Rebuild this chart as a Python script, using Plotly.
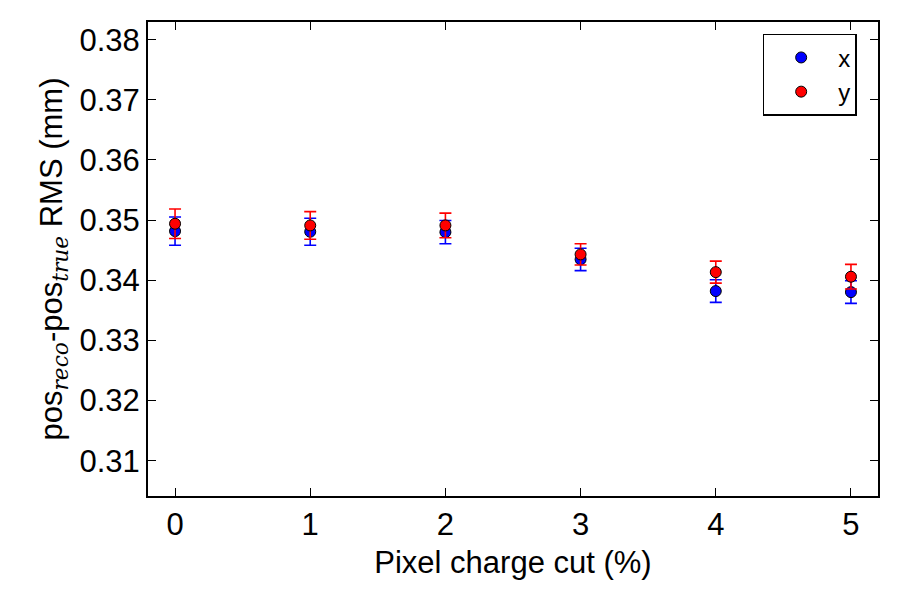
import plotly.graph_objects as go

cuts = [0, 1, 2, 3, 4, 5]
x_rms = [0.34817, 0.34807, 0.34800, 0.34347, 0.33820, 0.33803]
x_err = [0.00236, 0.00224, 0.00194, 0.00186, 0.00188, 0.00188]
y_rms = [0.34940, 0.34912, 0.34912, 0.34430, 0.34135, 0.34059]
y_err = [0.00246, 0.00230, 0.00205, 0.00177, 0.00183, 0.00205]

font = "Liberation Sans, Arial, Helvetica, sans-serif"

fig = go.Figure()
fig.add_trace(go.Scatter(
    x=cuts, y=x_rms, mode="markers", name="x",
    marker=dict(color="blue", size=11, line=dict(color="black", width=1)),
    error_y=dict(type="data", array=x_err, color="blue", thickness=1.6, width=6),
))
fig.add_trace(go.Scatter(
    x=cuts, y=y_rms, mode="markers", name="y",
    marker=dict(color="red", size=11, line=dict(color="black", width=1)),
    error_y=dict(type="data", array=y_err, color="red", thickness=1.6, width=6),
))

ytitle = ("pos<sub><span style=\"font-family:'DejaVu Serif', serif\"><i>reco</i></span></sub>"
          "-pos<sub><span style=\"font-family:'DejaVu Serif', serif\"><i>true</i></span></sub> RMS (mm)")

fig.update_layout(
    width=900, height=600,
    paper_bgcolor="white", plot_bgcolor="white",
    margin=dict(l=148, r=22, t=22, b=104),
    font=dict(family=font, color="black", size=31),
    showlegend=True,
    legend=dict(x=0.842, y=0.975, xanchor="left", yanchor="top",
                bordercolor="black", borderwidth=1.5, bgcolor="white",
                font=dict(size=24), itemwidth=64),
    xaxis=dict(range=[-0.2, 5.2], tickvals=cuts, ticks="inside", ticklen=8,
               tickcolor="black", showgrid=False, zeroline=False,
               showline=True, linecolor="black", linewidth=2, mirror="allticks",
               tickfont=dict(size=31),
               title=dict(text="Pixel charge cut (%)", font=dict(size=31), standoff=10)),
    yaxis=dict(range=[0.30413, 0.38294], tickvals=[0.31, 0.32, 0.33, 0.34, 0.35, 0.36, 0.37, 0.38],
               tickformat=".2f", ticks="inside", ticklen=8, tickcolor="black",
               showgrid=False, zeroline=False,
               showline=True, linecolor="black", linewidth=2, mirror="allticks",
               tickfont=dict(size=31),
               title=dict(text=ytitle, font=dict(size=31), standoff=8)),
)

fig.write_html("out.html")
